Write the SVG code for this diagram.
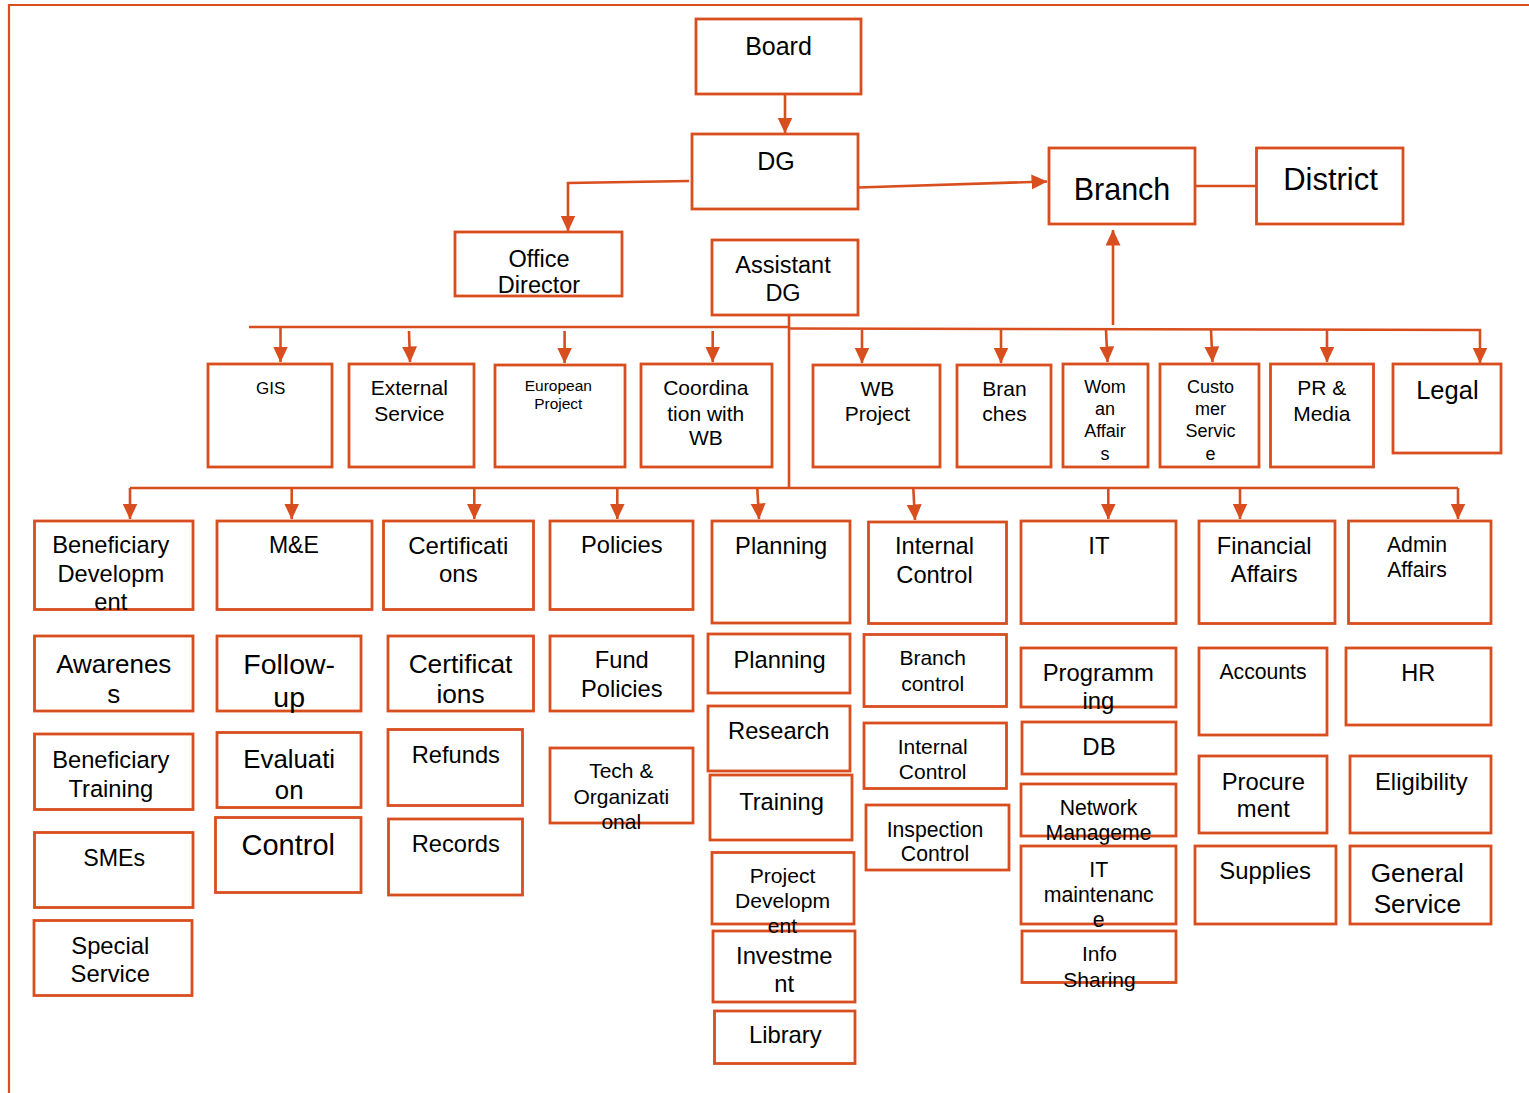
<svg xmlns="http://www.w3.org/2000/svg" width="1529" height="1093" viewBox="0 0 1529 1093">
<defs>
<style>
.b{fill:#fff;stroke:#D94E1E;stroke-width:2.8}
.c{fill:none;stroke:#D94E1E;stroke-width:2.6}
.f{fill:none;stroke:#D94E1E;stroke-width:2.2}
text{font-family:"Liberation Sans",Arial,sans-serif;fill:#000;text-anchor:middle}
</style>
<marker id="ah" markerUnits="userSpaceOnUse" markerWidth="17" markerHeight="16" refX="15.5" refY="7.5" orient="auto">
<path d="M0,0 L16,7.5 L0,15 z" fill="#D94E1E"/>
</marker>
</defs>
<rect width="1529" height="1093" fill="#fff"/>
<path class="f" d="M9,1093 L9,5 L1529,5"/>

<g id="connectors">
<path class="c" d="M785,95 L785,133" marker-end="url(#ah)"/>
<path class="c" d="M689,181 L568,183 L568,231" marker-end="url(#ah)"/>
<path class="c" d="M858,187.5 L1047,181.5" marker-end="url(#ah)"/>
<path class="c" d="M1195,186 L1256,186"/>
<path class="c" d="M1113,325 L1113,230" marker-end="url(#ah)"/>
<path class="c" d="M789,315 L789,488"/>
<path class="c" d="M249,327 L789,327"/>
<path class="c" d="M789,328.5 L1480,330 L1480,363" marker-end="url(#ah)"/>
<path class="c" d="M280.5,327 L280.5,362" marker-end="url(#ah)"/>
<path class="c" d="M409,331 L410,362" marker-end="url(#ah)"/>
<path class="c" d="M564.6,331 L564.6,363" marker-end="url(#ah)"/>
<path class="c" d="M712.7,331 L712.7,362" marker-end="url(#ah)"/>
<path class="c" d="M862,330 L862,363" marker-end="url(#ah)"/>
<path class="c" d="M1001,330 L1001,363" marker-end="url(#ah)"/>
<path class="c" d="M1106,330 L1107.5,362" marker-end="url(#ah)"/>
<path class="c" d="M1211,330 L1212.5,362" marker-end="url(#ah)"/>
<path class="c" d="M1327,330 L1327,362" marker-end="url(#ah)"/>
<path class="c" d="M130,488 L1458,488"/>
<path class="c" d="M130,488 L130,519" marker-end="url(#ah)"/>
<path class="c" d="M291.7,488 L291.7,519" marker-end="url(#ah)"/>
<path class="c" d="M474.3,488 L474.3,519" marker-end="url(#ah)"/>
<path class="c" d="M617.3,488 L617.3,519" marker-end="url(#ah)"/>
<path class="c" d="M757.3,488 L759,519" marker-end="url(#ah)"/>
<path class="c" d="M913.3,488 L915,520" marker-end="url(#ah)"/>
<path class="c" d="M1108.3,488 L1108.3,519" marker-end="url(#ah)"/>
<path class="c" d="M1240,488 L1240,519" marker-end="url(#ah)"/>
<path class="c" d="M1458,488 L1458,519" marker-end="url(#ah)"/>
</g>

<g id="board"><rect class="b" x="696" y="19" width="165" height="75"/><text x="778.5" y="55" font-size="25">Board</text></g>
<g id="dg"><rect class="b" x="692" y="134" width="166" height="75"/><text x="776" y="170" font-size="25">DG</text></g>
<g id="office-director"><rect class="b" x="455" y="232" width="167" height="64"/><text x="539" font-size="23.5"><tspan x="539" y="267">Office</tspan><tspan x="539" y="293">Director</tspan></text></g>
<g id="assistant-dg"><rect class="b" x="712" y="240" width="146" height="75"/><text x="783" font-size="23.5"><tspan x="783" y="273">Assistant</tspan><tspan x="783" y="301">DG</tspan></text></g>
<g id="branch"><rect class="b" x="1049" y="148" width="146" height="76"/><text x="1122" y="199.5" font-size="30.5">Branch</text></g>
<g id="district"><rect class="b" x="1256.5" y="148" width="146.5" height="76"/><text x="1330.5" y="190" font-size="31">District</text></g>

<g id="gis"><rect class="b" x="208" y="364" width="124" height="103"/><text x="270.6" y="394" font-size="17">GIS</text></g>
<g id="external-service"><rect class="b" x="349" y="364" width="125" height="103"/><text font-size="21"><tspan x="409.3" y="395">External</tspan><tspan x="409.3" y="421">Service</tspan></text></g>
<g id="european-project"><rect class="b" x="495" y="365" width="130" height="102"/><text font-size="15.5"><tspan x="558.3" y="390.7">European</tspan><tspan x="558.3" y="408.7">Project</tspan></text></g>
<g id="coordination-wb"><rect class="b" x="641" y="364" width="131" height="103"/><text font-size="21"><tspan x="705.8" y="395">Coordina</tspan><tspan x="705.8" y="421">tion with</tspan><tspan x="705.8" y="445">WB</tspan></text></g>
<g id="wb-project"><rect class="b" x="813" y="365" width="127" height="102"/><text font-size="21"><tspan x="877.4" y="395.7">WB</tspan><tspan x="877.4" y="421">Project</tspan></text></g>
<g id="branches"><rect class="b" x="957" y="365" width="94" height="102"/><text font-size="21"><tspan x="1004.5" y="395.7">Bran</tspan><tspan x="1004.5" y="421">ches</tspan></text></g>
<g id="woman-affairs"><rect class="b" x="1063" y="364" width="85" height="103"/><text font-size="18"><tspan x="1105" y="392.7">Wom</tspan><tspan x="1105" y="415">an</tspan><tspan x="1105" y="436.7">Affair</tspan><tspan x="1105" y="460">s</tspan></text></g>
<g id="customer-service"><rect class="b" x="1160" y="364" width="99" height="103"/><text font-size="18"><tspan x="1210.5" y="392.7">Custo</tspan><tspan x="1210.5" y="415">mer</tspan><tspan x="1210.5" y="437">Servic</tspan><tspan x="1210.5" y="460">e</tspan></text></g>
<g id="pr-media"><rect class="b" x="1270.5" y="364" width="103" height="103"/><text font-size="21"><tspan x="1321.8" y="395">PR &amp;</tspan><tspan x="1321.8" y="421">Media</tspan></text></g>
<g id="legal"><rect class="b" x="1393" y="364" width="108" height="89"/><text x="1447.4" y="399.3" font-size="25.5">Legal</text></g>

<g id="beneficiary-development"><rect class="b" x="34.5" y="521" width="158.5" height="88.5"/><text font-size="23.7"><tspan x="110.8" y="552.7">Beneficiary</tspan><tspan x="110.8" y="581.7">Developm</tspan><tspan x="110.8" y="610">ent</tspan></text></g>
<g id="me"><rect class="b" x="217" y="521" width="155" height="88.5"/><text x="293.8" y="552.7" font-size="23">M&amp;E</text></g>
<g id="certifications"><rect class="b" x="383.5" y="521" width="150" height="88.5"/><text font-size="24"><tspan x="458.3" y="554">Certificati</tspan><tspan x="458.3" y="581.7">ons</tspan></text></g>
<g id="policies"><rect class="b" x="550" y="521" width="143" height="88.5"/><text x="621.8" y="553.3" font-size="23.7">Policies</text></g>
<g id="planning"><rect class="b" x="712" y="521" width="138" height="102"/><text x="781.2" y="554" font-size="23.7">Planning</text></g>
<g id="internal-control"><rect class="b" x="868.5" y="522" width="138" height="101.5"/><text font-size="23.7"><tspan x="934.5" y="554">Internal</tspan><tspan x="934.5" y="582.7">Control</tspan></text></g>
<g id="it"><rect class="b" x="1021" y="521" width="155" height="102.5"/><text x="1099" y="554" font-size="24">IT</text></g>
<g id="financial-affairs"><rect class="b" x="1199" y="521" width="136" height="102.5"/><text font-size="23.7"><tspan x="1264.2" y="554">Financial</tspan><tspan x="1264.2" y="581.7">Affairs</tspan></text></g>
<g id="admin-affairs"><rect class="b" x="1348.5" y="521" width="142.5" height="102.5"/><text font-size="21.2"><tspan x="1417" y="551.7">Admin</tspan><tspan x="1417" y="576.7">Affairs</tspan></text></g>

<g id="awareness"><rect class="b" x="34.5" y="636" width="158.5" height="75"/><text font-size="26"><tspan x="113.8" y="672.7">Awarenes</tspan><tspan x="113.8" y="702.7">s</tspan></text></g>
<g id="follow-up"><rect class="b" x="217" y="636" width="144" height="75"/><text font-size="28.5"><tspan x="289.2" y="674.3">Follow-</tspan><tspan x="289.2" y="706.5">up</tspan></text></g>
<g id="certifications-2"><rect class="b" x="388" y="636" width="145.5" height="75"/><text font-size="26.3"><tspan x="460.5" y="672.7">Certificat</tspan><tspan x="460.5" y="702.7">ions</tspan></text></g>
<g id="fund-policies"><rect class="b" x="550" y="636" width="143" height="75"/><text font-size="23.7"><tspan x="621.8" y="668.3">Fund</tspan><tspan x="621.8" y="697.3">Policies</tspan></text></g>
<g id="planning-2"><rect class="b" x="708" y="634" width="142" height="59"/><text x="779.5" y="667.7" font-size="23.7">Planning</text></g>
<g id="branch-control"><rect class="b" x="864" y="634.5" width="142.5" height="72"/><text font-size="21"><tspan x="932.7" y="665">Branch</tspan><tspan x="932.7" y="690.7">control</tspan></text></g>
<g id="programming"><rect class="b" x="1021" y="648" width="155" height="59"/><text font-size="23.8"><tspan x="1098.3" y="681">Programm</tspan><tspan x="1098.3" y="709.3">ing</tspan></text></g>
<g id="accounts"><rect class="b" x="1199" y="648" width="128" height="87"/><text x="1263" y="679" font-size="21.2">Accounts</text></g>
<g id="hr"><rect class="b" x="1346" y="648" width="145" height="77"/><text x="1418.3" y="681" font-size="23.5">HR</text></g>

<g id="beneficiary-training"><rect class="b" x="34.5" y="734" width="158.5" height="75.5"/><text font-size="23.7"><tspan x="110.8" y="767.7">Beneficiary</tspan><tspan x="110.8" y="796.7">Training</tspan></text></g>
<g id="evaluation"><rect class="b" x="217" y="732.5" width="144" height="75"/><text font-size="25.8"><tspan x="289.2" y="767.7">Evaluati</tspan><tspan x="289.2" y="799.3">on</tspan></text></g>
<g id="refunds"><rect class="b" x="388" y="729.5" width="134.5" height="76"/><text x="455.8" y="762.7" font-size="23.7">Refunds</text></g>
<g id="tech-organizational"><rect class="b" x="550" y="748" width="143" height="75"/><text font-size="21"><tspan x="621.3" y="777.7">Tech &amp;</tspan><tspan x="621.3" y="804.3">Organizati</tspan><tspan x="621.3" y="829.3">onal</tspan></text></g>
<g id="research"><rect class="b" x="708" y="706" width="142" height="65"/><text x="778.8" y="739.3" font-size="23.7">Research</text></g>
<g id="internal-control-2"><rect class="b" x="864" y="723" width="142.5" height="65.5"/><text font-size="21"><tspan x="932.7" y="754">Internal</tspan><tspan x="932.7" y="779">Control</tspan></text></g>
<g id="db"><rect class="b" x="1022" y="722" width="154" height="52"/><text x="1099" y="755" font-size="24">DB</text></g>
<g id="procurement"><rect class="b" x="1199" y="756" width="128" height="77"/><text font-size="23.8"><tspan x="1263.3" y="790">Procure</tspan><tspan x="1263.3" y="817.3">ment</tspan></text></g>
<g id="eligibility"><rect class="b" x="1350" y="756" width="141" height="77"/><text x="1421.3" y="790" font-size="23.8">Eligibility</text></g>

<g id="smes"><rect class="b" x="34.5" y="832.5" width="158.5" height="75"/><text x="114.2" y="866" font-size="23.2">SMEs</text></g>
<g id="control"><rect class="b" x="215.5" y="817.5" width="145.5" height="75"/><text x="288.3" y="855" font-size="29">Control</text></g>
<g id="records"><rect class="b" x="388.5" y="819" width="134" height="76"/><text x="455.8" y="851.7" font-size="23.7">Records</text></g>
<g id="training"><rect class="b" x="710" y="775" width="142" height="65"/><text x="781.5" y="810" font-size="23.7">Training</text></g>
<g id="inspection-control"><rect class="b" x="866" y="805" width="143" height="65"/><text font-size="21.2"><tspan x="935" y="836.7">Inspection</tspan><tspan x="935" y="861">Control</tspan></text></g>
<g id="network-management"><rect class="b" x="1021" y="784" width="155" height="52"/><text font-size="21.2"><tspan x="1098.5" y="815">Network</tspan><tspan x="1098.5" y="840">Manageme</tspan></text></g>
<g id="it-maintenance"><rect class="b" x="1021" y="846" width="155" height="78"/><text font-size="21.3"><tspan x="1098.7" y="876.7">IT</tspan><tspan x="1098.7" y="902.3">maintenanc</tspan><tspan x="1098.7" y="926.7">e</tspan></text></g>
<g id="supplies"><rect class="b" x="1195" y="846" width="141" height="78"/><text x="1265.2" y="879" font-size="23.9">Supplies</text></g>
<g id="general-service"><rect class="b" x="1350" y="846" width="141" height="78"/><text font-size="26.2"><tspan x="1417.3" y="881.7">General</tspan><tspan x="1417.3" y="913.3">Service</tspan></text></g>

<g id="special-service"><rect class="b" x="34" y="920.5" width="158" height="75"/><text font-size="23.8"><tspan x="110.3" y="954.3">Special</tspan><tspan x="110.3" y="982.3">Service</tspan></text></g>
<g id="investment"><rect class="b" x="713" y="931" width="142" height="71"/><text font-size="23.8"><tspan x="784.3" y="964">Investme</tspan><tspan x="784.3" y="991.7">nt</tspan></text></g>
<g id="project-development"><rect class="b" x="712" y="852.5" width="142" height="71.5"/><text font-size="21.1"><tspan x="782.5" y="883.3">Project</tspan><tspan x="782.5" y="908.3">Developm</tspan><tspan x="782.5" y="933.3">ent</tspan></text></g>
<g id="info-sharing"><rect class="b" x="1022" y="931" width="154" height="51.5"/><text font-size="21"><tspan x="1099.5" y="961">Info</tspan><tspan x="1099.5" y="986.7">Sharing</tspan></text></g>
<g id="library"><rect class="b" x="714.5" y="1011" width="140.5" height="52.5"/><text x="785.3" y="1043.3" font-size="23.8">Library</text></g>
</svg>
